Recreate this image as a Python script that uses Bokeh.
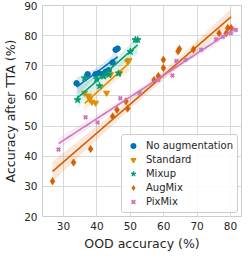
import numpy as np
from bokeh.plotting import figure
from bokeh.models import Range1d, Legend, LegendItem, FixedTicker
from bokeh.embed import file_html
from bokeh.resources import INLINE

# ---- data ----
noaug_x = [33.9, 37.2, 39.6, 40.5, 41.7, 42.6, 43.5, 44.7, 45.6, 46.2]
noaug_y = [64.2, 67.2, 67.2, 67.5, 67.2, 68.0, 68.5, 71.1, 75.3, 75.7]

standard_x = [36.3, 37.5, 37.8, 38.5, 39.6, 42.9, 44.1, 46.8, 49.2, 49.6]
standard_y = [61.0, 60.0, 59.0, 58.0, 57.7, 61.0, 67.2, 67.5, 71.4, 71.8]

mixup_x = [34.2, 36.3, 39.9, 40.8, 42.0, 43.5, 46.5, 50.0, 51.5, 52.2]
mixup_y = [58.7, 65.9, 65.6, 63.3, 66.5, 67.0, 67.5, 74.7, 78.6, 78.6]

augmix_x = [26.7, 33.0, 38.1, 44.7, 46.0, 48.7, 49.2, 57.1, 58.4, 59.9, 59.9,
            64.3, 64.7, 68.9, 76.6, 78.7, 79.2, 80.2]
augmix_y = [31.7, 37.9, 42.4, 53.2, 55.4, 58.2, 55.8, 65.3, 66.6, 72.0, 69.3,
            74.8, 75.6, 75.4, 80.8, 80.8, 82.5, 82.5]

pixmix_x = [28.5, 36.6, 40.2, 47.0, 52.8, 58.4, 62.6, 63.8, 66.5, 71.2, 75.7, 77.7, 80.1, 81.6]
pixmix_y = [42.2, 52.9, 51.2, 59.2, 61.0, 65.3, 66.8, 71.6, 72.0, 75.3, 78.8, 79.6, 80.8, 81.9]

series = [
    ("No augmentation", noaug_x, noaug_y, "#0173b2", "circle"),
    ("Standard", standard_x, standard_y, "#de8f05", "inverted_triangle"),
    ("Mixup", mixup_x, mixup_y, "#029e73", "star"),
    ("AugMix", augmix_x, augmix_y, "#d55e00", "diamond"),
    ("PixMix", pixmix_x, pixmix_y, "#cc78bc", "x"),
]

x_ticks = [30, 40, 50, 60, 70, 80]
y_ticks = [20, 30, 40, 50, 60, 70, 80, 90]

TEXT = "#262626"
GRID = "#d9d9d9"

p = figure(frame_width=199, frame_height=211, output_backend="svg", toolbar_location=None,
           x_range=Range1d(23.7, 83.3), y_range=Range1d(20, 90),
           min_border_left=30, min_border_right=3, min_border_top=5,
           min_border_bottom=28)

p.outline_line_color = "#cccccc"
p.outline_line_width = 1
p.background_fill_color = "white"
p.border_fill_color = "white"

for ax in (p.xaxis, p.yaxis):
    ax.axis_line_color = None
    ax.major_tick_line_color = None
    ax.minor_tick_line_color = None
    ax.major_tick_out = 0
    ax.major_tick_in = 0
    ax.minor_tick_out = 0
    ax.minor_tick_in = 0
    ax.major_label_text_font = "DejaVu Sans"
    ax.major_label_text_font_size = "10.5px"
    ax.major_label_text_color = TEXT
    ax.axis_label_text_font = "DejaVu Sans"
    ax.axis_label_text_font_size = "12.5px"
    ax.axis_label_text_font_style = "normal"
    ax.axis_label_text_color = TEXT

p.xaxis.ticker = FixedTicker(ticks=x_ticks)
p.yaxis.ticker = FixedTicker(ticks=y_ticks)
p.xaxis.major_label_standoff = 5
p.yaxis.major_label_standoff = 5
p.xaxis.axis_label_standoff = 3
p.yaxis.axis_label_standoff = 3
p.xaxis.axis_label = "OOD accuracy (%)"
p.yaxis.axis_label = "Accuracy after TTA (%)"

p.xgrid.grid_line_color = GRID
p.ygrid.grid_line_color = GRID
p.xgrid.grid_line_width = 1
p.ygrid.grid_line_width = 1

items = []
for name, xs, ys, color, marker in series:
    x = np.array(xs)
    y = np.array(ys)
    n = len(x)
    b, a = np.polyfit(x, y, 1)
    xx = np.linspace(x.min(), x.max(), 60)
    yy = a + b * xx
    resid = y - (a + b * x)
    s = np.sqrt(np.sum(resid ** 2) / (n - 2))
    sxx = np.sum((x - x.mean()) ** 2)
    se = s * np.sqrt(1.0 / n + (xx - x.mean()) ** 2 / sxx)
    t = 2.1
    p.varea(x=xx, y1=yy - t * se, y2=yy + t * se, fill_color=color, fill_alpha=0.15)
    if marker == "x":
        r = p.scatter(x, y, marker="x", size=5, line_color=color, line_width=2.0)
    elif marker == "diamond":
        r = p.scatter(x, y, marker="diamond", size=7.5, fill_color=color,
                      line_color=color, line_width=0.5)
    elif marker == "star":
        r = p.scatter(x, y, marker="star", size=7, fill_color=color, line_color=color)
    elif marker == "inverted_triangle":
        r = p.scatter(x, y, marker="inverted_triangle", size=6, fill_color=color,
                      line_color=color)
    else:
        r = p.scatter(x, y, marker="circle", size=5.5, fill_color=color, line_color=color)
    p.line(xx, yy, line_color=color, line_width=1.6)
    items.append(LegendItem(label=name, renderers=[r]))

legend = Legend(items=items, location="bottom_right")
legend.label_text_font = "DejaVu Sans"
legend.label_text_font_size = "10px"
legend.label_text_color = TEXT
legend.border_line_color = "#cccccc"
legend.border_line_alpha = 1
legend.background_fill_alpha = 0.85
legend.margin = 3
legend.padding = 4
legend.spacing = 1
legend.glyph_height = 13
legend.label_height = 13
legend.glyph_width = 14
legend.label_standoff = 6
legend.border_radius = 3
p.add_layout(legend)

open("out.html", "w").write(file_html(p, INLINE))
